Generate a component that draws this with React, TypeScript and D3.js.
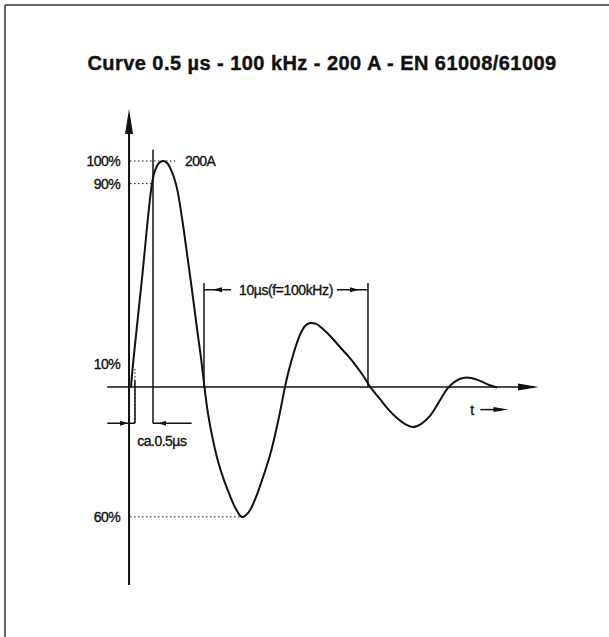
import React, { useEffect, useRef } from "react";
import * as d3 from "d3";

const TITLE = "Curve 0.5 µs - 100 kHz - 200 A - EN 61008/61009";

// current waveform: time in µs, current in % of peak
const times = [
  0, 0.12, 0.67, 1.28, 1.46, 1.71, 1.95, 2.2, 2.5, 2.8, 3.11, 3.41, 3.72,
  4.02, 4.27, 4.48, 4.7, 5.0, 5.3, 5.67, 6.04, 6.4, 6.77, 7.13, 7.5, 7.99,
  8.48, 8.96, 9.39, 9.63, 9.94, 10.3, 10.61, 10.91, 11.28, 11.77, 12.26,
  12.74, 13.29, 13.78, 14.21, 14.63, 15.18, 15.73, 16.22, 16.71, 17.2, 17.68,
  18.23, 18.78, 19.33, 19.82, 20.24, 20.73, 21.28, 21.83, 22.32,
];
const current = [
  0, 10, 48, 90, 95.6, 99.1, 100, 99.1, 95.1, 88, 74.8, 59.3, 42.9, 26.1,
  12.8, 0, -12, -23.5, -32.7, -41.2, -48.2, -54, -57.5, -55.8, -50.9, -41.2,
  -30.1, -15.5, 0, 7.5, 15.5, 23, 27, 28.3, 27.9, 25.2, 21.7, 17.7, 13.3, 8.8,
  4.4, -0.4, -5.3, -10.2, -13.7, -16.4, -17.7, -16.4, -12.8, -6.6, -0.4, 2.7,
  4, 4, 2.7, 0.9, -0.2,
];

// level annotations on the vertical axis
const levelLabels = ["100%", "90%", "10%", "60%"];
const levelValues = [100, 90, 10, -57.5];
const levelEnds = [2.7, 1.28, 0.12, 6.77]; // µs where the dotted guide stops

const peakLabel = "200A";
const riseLabel = "ca.0.5µs";
const periodLabel = "10µs(f=100kHz)";
const periodStart = 4.45;
const periodLength = 10;
const riseStart = 0.12;
const riseEnd = 1.28;

const FONT = "'Liberation Sans', Arial, Helvetica, sans-serif";

export default function App() {
  const svgRef = useRef<SVGSVGElement>(null);

  useEffect(() => {
    if (!svgRef.current) return;
    const svg = d3.select(svgRef.current);
    svg.selectAll("*").remove();

    const x = d3.scaleLinear().domain([0, 10]).range([131, 295]);
    const y = d3.scaleLinear().domain([0, 100]).range([387, 161]);

    const ink = "#111";
    const points = times.map((t, i) => [t, current[i]] as [number, number]);

    // frame (left and top edges only)
    svg.append("line")
      .attr("x1", 5).attr("x2", 609).attr("y1", 5).attr("y2", 5)
      .attr("stroke", "#333").attr("stroke-width", 1.5);
    svg.append("line")
      .attr("x1", 5).attr("x2", 5).attr("y1", 5).attr("y2", 637)
      .attr("stroke", "#333").attr("stroke-width", 1.5);

    svg.append("text")
      .attr("x", 322)
      .attr("y", 70)
      .attr("text-anchor", "middle")
      .attr("fill", ink)
      .attr("stroke", ink)
      .attr("stroke-width", 0.4)
      .style("font-family", FONT)
      .style("font-weight", "bold")
      .style("font-size", "20px")
      .style("letter-spacing", "0.45px")
      .text(TITLE);

    const label = (sel: d3.Selection<SVGTextElement, unknown, null, undefined>, spacing: number) =>
      sel
        .attr("fill", ink)
        .attr("stroke", ink)
        .attr("stroke-width", 0.35)
        .style("font-family", FONT)
        .style("font-size", "14px")
        .style("letter-spacing", `${spacing}px`);

    const g = svg.append("g");

    // axes
    const axisX = x(-0.12);
    g.append("line")
      .attr("x1", axisX).attr("x2", axisX)
      .attr("y1", y(118)).attr("y2", y(-87.6))
      .attr("stroke", ink).attr("stroke-width", 2);
    g.append("path")
      .attr("d", `M${axisX},${y(123)} L${axisX - 4},${y(112)} L${axisX + 4},${y(112)} Z`)
      .attr("fill", ink);

    const baseY = y(0);
    g.append("line")
      .attr("x1", x(-1.45)).attr("x2", x(24.6))
      .attr("y1", baseY).attr("y2", baseY)
      .attr("stroke", ink).attr("stroke-width", 1.6);
    g.append("path")
      .attr("d", `M${x(24.85)},${baseY} L${x(23.6)},${baseY - 3.5} L${x(23.6)},${baseY + 3.5} Z`)
      .attr("fill", ink);

    // "t ->" label
    const tY = y(-10);
    label(g.append("text"), 0)
      .attr("x", x(20.8)).attr("y", tY + 5)
      .attr("text-anchor", "middle")
      .text("t");
    g.append("line")
      .attr("x1", x(21.3)).attr("x2", x(22.6))
      .attr("y1", tY).attr("y2", tY)
      .attr("stroke", ink).attr("stroke-width", 1.5);
    g.append("path")
      .attr("d", `M${x(23.0)},${tY} L${x(22.1)},${tY - 2.5} L${x(22.1)},${tY + 2.5} Z`)
      .attr("fill", ink);

    // level guides and labels
    levelValues.forEach((v, i) => {
      if (i !== 2) {
        g.append("line")
          .attr("x1", axisX + 1).attr("x2", x(levelEnds[i]))
          .attr("y1", y(v)).attr("y2", y(v))
          .attr("stroke", ink).attr("stroke-width", 1)
          .attr("stroke-dasharray", "1.5,2.5");
      }
      label(g.append("text"), -0.6)
        .attr("x", 120).attr("y", y(v) + 5)
        .attr("text-anchor", "end")
        .text(levelLabels[i]);
    });

    label(g.append("text"), -0.6)
      .attr("x", x(3.29)).attr("y", y(100) + 5)
      .text(peakLabel);

    // rise time markers
    const dimY = y(-16);
    g.append("line")
      .attr("x1", x(riseStart) + 2).attr("x2", x(riseStart) + 2)
      .attr("y1", y(8)).attr("y2", y(-16))
      .attr("stroke", ink).attr("stroke-dasharray", "1.5,2")
      .attr("stroke-width", 1);
    g.append("line")
      .attr("x1", x(riseEnd) + 1).attr("x2", x(riseEnd) + 1)
      .attr("y1", y(105)).attr("y2", dimY)
      .attr("stroke", ink).attr("stroke-width", 1.5);
    g.append("line")
      .attr("x1", x(riseStart) + 2).attr("x2", x(riseStart) + 2)
      .attr("y1", y(3)).attr("y2", dimY)
      .attr("stroke", ink).attr("stroke-width", 1.5);
    g.append("path")
      .attr("d", `M${x(-1.45)},${dimY} H${x(riseStart) + 2} M${x(riseEnd) + 1},${dimY} H${x(3.7)}`)
      .attr("stroke", ink).attr("stroke-width", 1.5).attr("fill", "none");
    const lt = x(riseStart) - 5;
    g.append("path")
      .attr("d", `M${lt},${dimY} L${lt - 8},${dimY - 2.5} L${lt - 8},${dimY + 2.5} Z`)
      .attr("fill", ink);
    const rt = x(riseEnd) + 6;
    g.append("path")
      .attr("d", `M${rt},${dimY} L${rt + 8},${dimY - 2.5} L${rt + 8},${dimY + 2.5} Z`)
      .attr("fill", ink);
    label(g.append("text"), -0.5)
      .attr("x", x(0.38)).attr("y", y(-24) + 5)
      .text(riseLabel);

    // period markers
    const pY = y(43);
    const p0 = x(periodStart);
    const p1 = x(periodStart + periodLength);
    [p0, p1].forEach((px) => {
      g.append("line")
        .attr("x1", px).attr("x2", px)
        .attr("y1", y(46)).attr("y2", y(0))
        .attr("stroke", ink).attr("stroke-width", 1.5);
    });
    g.append("path")
      .attr("d", `M${p0},${pY} H${p0 + 27} M${p1 - 31},${pY} H${p1}`)
      .attr("stroke", ink).attr("stroke-width", 1.5).attr("fill", "none");
    g.append("path")
      .attr("d", `M${p0 + 9},${pY} L${p0 + 18},${pY - 2.5} L${p0 + 18},${pY + 2.5} Z`)
      .attr("fill", ink);
    g.append("path")
      .attr("d", `M${p1 - 9},${pY} L${p1 - 18},${pY - 2.5} L${p1 - 18},${pY + 2.5} Z`)
      .attr("fill", ink);
    label(g.append("text"), -0.4)
      .attr("x", (p0 + p1) / 2).attr("y", pY + 5)
      .attr("text-anchor", "middle")
      .text(periodLabel);

    // waveform
    const line = d3
      .line<[number, number]>()
      .x((d) => x(d[0]))
      .y((d) => y(d[1]))
      .curve(d3.curveCatmullRom.alpha(0.5));
    g.append("path")
      .datum(points)
      .attr("d", line)
      .attr("fill", "none")
      .attr("stroke", ink)
      .attr("stroke-width", 2);
  }, []);

  return (
    <svg
      ref={svgRef}
      width={609}
      height={637}
      style={{ position: "absolute", left: 0, top: 0, background: "#fff", display: "block" }}
    />
  );
}
